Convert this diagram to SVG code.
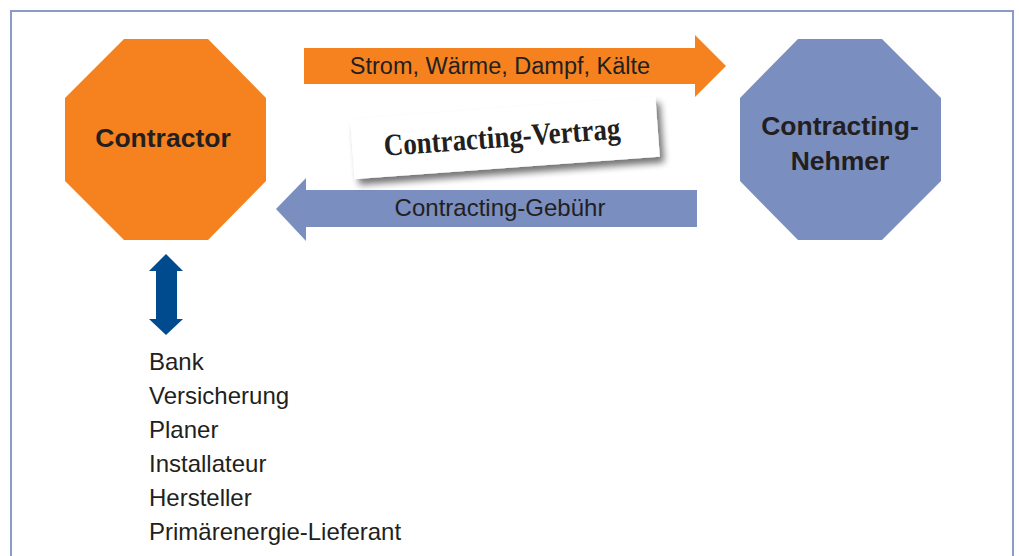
<svg xmlns="http://www.w3.org/2000/svg" width="1019" height="556" viewBox="0 0 1019 556">
<style>
.lbl{font-family:"Liberation Sans",Arial,sans-serif;font-size:24px;fill:#231f20}
.bold{font-family:"Liberation Sans",Arial,sans-serif;font-size:26.5px;font-weight:bold;fill:#231f20}
</style>
<defs>
<filter id="sh" x="-10%" y="-30%" width="130%" height="170%">
<feGaussianBlur in="SourceAlpha" stdDeviation="3.5"/>
<feOffset dx="4" dy="6" result="b"/>
<feComponentTransfer><feFuncA type="linear" slope="0.55"/></feComponentTransfer>
<feMerge><feMergeNode/><feMergeNode in="SourceGraphic"/></feMerge>
</filter>
</defs>
<rect x="0" y="0" width="1019" height="556" fill="#ffffff"/>
<rect x="11" y="11" width="1002" height="570" fill="none" stroke="#8a9bc9" stroke-width="2"/>
<g id="contractor">
<polygon points="124,39 208,39 266,98 266,181 208,240 124,240 65,181 65,98" fill="#f5821f"/>
<text class="bold" x="163" y="147" text-anchor="middle">Contractor</text>
</g>
<g id="nehmer">
<polygon points="798,39 882,39 941,98 941,181 882,240 798,240 740,181 740,98" fill="#7a8ebf"/>
<text class="bold" x="840" y="135" text-anchor="middle">Contracting-</text>
<text class="bold" x="840" y="170" text-anchor="middle">Nehmer</text>
</g>
<g id="connectors">
<g id="flow-energy">
<polygon points="304,48 695,48 695,35 726,66 695,97 695,84 304,84" fill="#f5821f"/>
<text class="lbl" x="500" y="74" text-anchor="middle" style="font-size:23.5px">Strom, Wärme, Dampf, Kälte</text>
</g>
<g id="flow-fee">
<polygon points="697,190 306,190 306,178 276,209 306,241 306,227 697,227" fill="#7a8ebf"/>
<text class="lbl" x="500" y="216" text-anchor="middle">Contracting-Gebühr</text>
</g>
<g id="link-partners">
<polygon points="166,254 183,271 177,271 177,319 183,319 166,335 149,319 156,319 156,271 149,271" fill="#004b8d"/>
</g>
</g>
<g id="vertrag" transform="translate(505,138) rotate(-4.2)">
<rect x="-153" y="-30" width="306" height="60" fill="#ffffff" filter="url(#sh)"/>
<text x="-3" y="9" text-anchor="middle" textLength="237" lengthAdjust="spacingAndGlyphs" style="font-family:'Liberation Serif','Times New Roman',serif;font-size:31px;font-weight:bold;fill:#231f20">Contracting-Vertrag</text>
</g>
<g id="partners">
<text class="lbl" x="149" y="370">Bank</text>
<text class="lbl" x="149" y="404">Versicherung</text>
<text class="lbl" x="149" y="438">Planer</text>
<text class="lbl" x="149" y="472">Installateur</text>
<text class="lbl" x="149" y="506">Hersteller</text>
<text class="lbl" x="149" y="540">Primärenergie-Lieferant</text>
</g>
</svg>
